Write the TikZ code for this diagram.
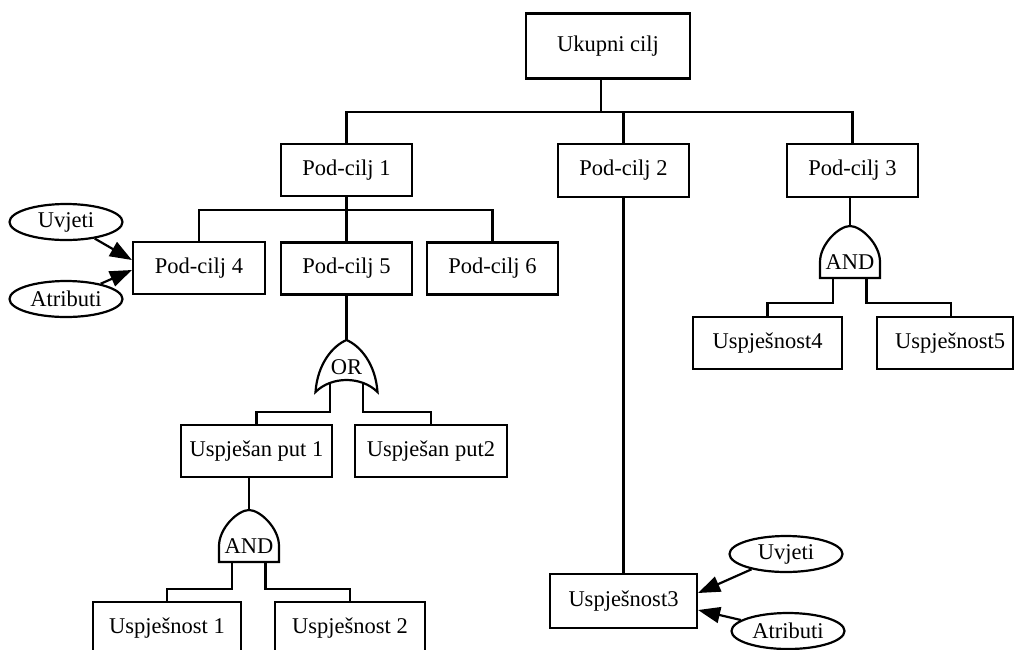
\documentclass[tikz,border=0pt]{standalone}
\usepackage{fontspec}
\setmainfont{Liberation Serif}
\usetikzlibrary{shapes.geometric,arrows.meta,calc}
\newcommand\diagfont{\fontsize{22.5}{27}\selectfont}
\begin{document}
\begin{tikzpicture}[x=1pt,y=-1pt,
  wire/.style={line width=2.2pt},
  box/.style={draw, line width=2.2pt, minimum height=52pt, inner sep=0pt, font=\diagfont},
  oval/.style={draw, ellipse, line width=2.2pt, minimum width=113pt, minimum height=36pt, inner sep=0pt, font=\diagfont},
  arr/.style={wire, -{Triangle[length=22pt,width=16pt]}},
  gatetxt/.style={inner sep=0pt, font=\diagfont},
  andgate/.pic={
    \draw[wire, fill=white] (-30,26) -- (-30,10) .. controls (-30,-8) and (-11,-26) .. (0,-26)
      .. controls (11,-26) and (30,-8) .. (30,10) -- (30,26) -- cycle;
    \node[gatetxt] at (0,10) {AND};
    \coordinate (-in) at (0,-26);
    \coordinate (-l) at (-17,26);
    \coordinate (-r) at (16.5,26);
  },
  orgate/.pic={
    \draw[wire, fill=white] (-31,26) .. controls (-29,-2) and (-14,-20) .. (0,-26)
      .. controls (14,-20) and (29,-2) .. (31,26) .. controls (15,10) and (-15,10) .. cycle;
    \node[gatetxt] at (0,1) {OR};
    \coordinate (-in) at (0,-26);
    \coordinate (-l) at (-16.5,17);
    \coordinate (-r) at (16.5,17);
  }
]
\useasboundingbox (0,0) rectangle (1014,649);

% goal boxes
\node[box, minimum width=164pt, minimum height=65pt] (top) at (608,46) {Ukupni cilj};
\node[box, minimum width=131pt] (p1) at (346.5,170) {Pod-cilj 1};
\node[box, minimum width=131pt, minimum height=53pt] (p2) at (623.5,170.5) {Pod-cilj 2};
\node[box, minimum width=131pt, minimum height=53pt] (p3) at (852.5,170.5) {Pod-cilj 3};
\node[box, minimum width=132pt] (p4) at (199,268) {Pod-cilj 4};
\node[box, minimum width=131pt] (p5) at (346.5,268.5) {Pod-cilj 5};
\node[box, minimum width=131pt] (p6) at (492.5,268.5) {Pod-cilj 6};
\node[box, minimum width=151pt] (up1) at (256.5,451) {Uspješan put 1};
\node[box, minimum width=152pt] (up2) at (431,451) {Uspješan put2};
\node[box, minimum width=148pt] (u1) at (167,628) {Uspješnost 1};
\node[box, minimum width=150pt] (u2) at (350,628) {Uspješnost 2};
\node[box, minimum width=147pt, minimum height=54pt] (u3) at (623.5,601) {Uspješnost3};
\node[box, minimum width=149pt] (u4) at (767.5,343) {Uspješnost4};
\node[box, minimum width=136pt] (u5) at (945,343) {\hspace{10pt}Uspješnost5};

% conditions and attributes
\node[oval] (uv1) at (66,222) {Uvjeti};
\node[oval] (at1) at (66,299) {Atributi};
\node[oval] (uv2) at (786,554) {Uvjeti};
\node[oval] (at2) at (788,631) {Atributi};

% logic gates
\pic (g1) at (346.5,366) {orgate};
\pic (g2) at (249,536) {andgate};
\pic (g3) at (850,252) {andgate};

% tree connectors
\coordinate (j0) at (601,112);
\draw[wire] ([xshift=-7pt]top.south) -- (j0);
\draw[wire] (p1.north) |- (j0) -| (p3.north);
\draw[wire] (p2.north) -- (p2.north |- j0);
\coordinate (j1) at (346.5,210);
\draw[wire] (p4.north) |- (j1) -| (p6.north);
\draw[wire] (p1.south) -- (p5.north);

\draw[wire] (p5.south) -- (g1-in);
\draw[wire] (g1-l) |- ([yshift=12pt]up1.north) -- (up1.north);
\draw[wire] (g1-r) |- ([yshift=12pt]up2.north) -- (up2.north);

\draw[wire] (g2-in |- up1.south) -- (g2-in);
\draw[wire] (g2-l) |- ([yshift=12pt]u1.north) -- (u1.north);
\draw[wire] (g2-r) |- ([yshift=12pt]u2.north) -- (u2.north);

\draw[wire] (g3-in |- p3.south) -- (g3-in);
\draw[wire] (g3-l) |- ([yshift=13pt]u4.north) -- (u4.north);
\draw[wire] (g3-r) |- ([xshift=6pt,yshift=13pt]u5.north) -- ([xshift=6pt]u5.north);

\draw[wire] (p2.south) -- (u3.north);

% arrows into goals
\draw[arr] (uv1) -- ([yshift=8pt]p4.west);
\draw[arr] (at1) -- ([yshift=-2pt]p4.west);
\draw[arr] (uv2) -- ([yshift=8pt]u3.east);
\draw[arr] (at2) -- ([yshift=-9pt]u3.east);
\end{tikzpicture}
\end{document}
